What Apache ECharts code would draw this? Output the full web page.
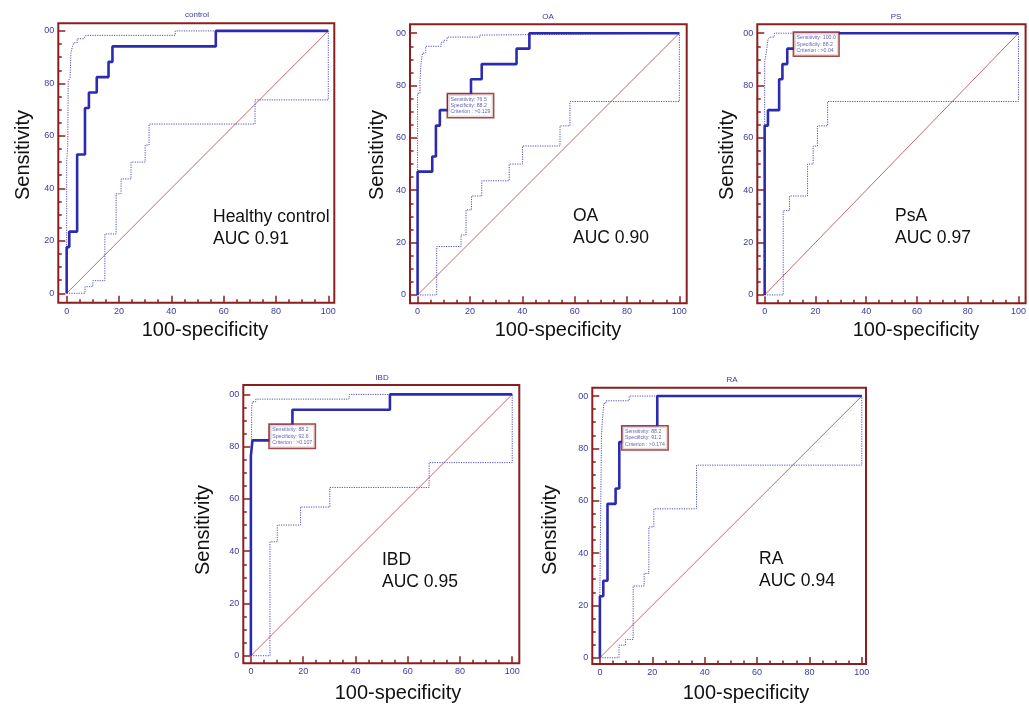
<!DOCTYPE html>
<html><head><meta charset="utf-8">
<script src="https://cdn.jsdelivr.net/npm/echarts@6/dist/echarts.min.js"></script>
<style>html,body{margin:0;padding:0;background:#fff;overflow:hidden}#c{width:1029px;height:704px}</style>
</head><body><div id="c"></div>
<script>
// ---------- data ----------
const panelTitles = ['control', 'OA', 'PS', 'IBD', 'RA'];
const groupNames = ['Healthy control', 'OA', 'PsA', 'IBD', 'RA'];
const aucValues = ['0.91', '0.90', '0.97', '0.95', '0.94'];
const xTickValues = [0, 20, 40, 60, 80, 100];
const xTickLabels = ['0', '20', '40', '60', '80', '100'];
const yTickValues = [0, 20, 40, 60, 80, 100];
const yTickLabels = ['0', '20', '40', '60', '80', '00'];
const minorTickValues = [5, 10, 15, 25, 30, 35, 45, 50, 55, 65, 70, 75, 85, 90, 95];
const diagonal = [[0, 0], [100, 100]];

const controlMain = [[0,0],[0,17.6],[1,17.6],[1,23.5],[4,23.5],[4,52.9],[7,52.9],[7,70.6],[8.5,70.6],[8.5,76.5],[11.5,76.5],[11.5,82.4],[16,82.4],[16,88.2],[17.5,88.2],[17.5,94.1],[57,94.1],[57,100],[100,100]];
const controlUpper = [[0,0],[0,50],[0.4,50],[0.4,56],[0.6,56],[0.6,81],[1.3,81],[1.3,82],[1.6,82],[1.6,91.5],[2.2,91.5],[2.2,94],[2.8,94],[2.8,95.5],[4,95.5],[4,97],[6.5,97],[6.5,97.6],[7.2,97.6],[7.2,98.3],[41.5,98.3],[41.5,100],[100,100]];
const controlLower = [[0,0],[7,0],[7,2.5],[10,2.5],[10,4.8],[14.6,4.8],[14.6,22.6],[18.9,22.6],[18.9,37.9],[20.8,37.9],[20.8,43.6],[24.6,43.6],[24.6,50],[30,50],[30,56.5],[31.5,56.5],[31.5,64.5],[72,64.5],[72,73.7],[100,73.7],[100,100]];

const oaMain = [[0,0],[0,47.1],[5.6,47.1],[5.6,52.9],[7,52.9],[7,64.7],[8.5,64.7],[8.5,70.6],[11.8,70.6],[11.8,76.5],[20.4,76.5],[20.4,82.4],[24.5,82.4],[24.5,88.2],[37.8,88.2],[37.8,94.1],[42.7,94.1],[42.7,100],[100,100]];
const oaUpper = [[0,0],[0,77],[0.9,77],[0.9,81.5],[1.3,81.5],[1.3,88.5],[1.9,88.5],[1.9,92.4],[3.1,92.4],[3.1,95],[9,95],[9,96.5],[10,96.5],[10,97.3],[11.3,97.3],[11.3,98.5],[23.8,98.5],[23.8,99.3],[27.6,99.3],[27.6,100],[100,100]];
const oaLower = [[0,0],[7.3,0],[7.3,18.5],[16.6,18.5],[16.6,22.9],[18.5,22.9],[18.5,32.5],[20.6,32.5],[20.6,37.8],[24.5,37.8],[24.5,43.6],[35,43.6],[35,50],[40.1,50],[40.1,56.9],[54.4,56.9],[54.4,64.6],[58.2,64.6],[58.2,73.9],[100,73.9],[100,100]];

const psMain = [[0,0],[0,64.7],[1.3,64.7],[1.3,70.6],[5.7,70.6],[5.7,82.4],[7,82.4],[7,88.2],[8.9,88.2],[8.9,94.1],[11.8,94.1],[11.8,100],[100,100]];
const psUpper = [[0,0],[0,89],[0.6,89],[0.6,92.4],[1.3,92.4],[1.3,97.5],[1.9,97.5],[1.9,98.5],[3.8,98.5],[3.8,100],[100,100]];
const psLower = [[0,0],[7.3,0],[7.3,32.2],[9.8,32.2],[9.8,37.8],[16.9,37.8],[16.9,50],[19.1,50],[19.1,56.9],[20.8,56.9],[20.8,64.6],[24.8,64.6],[24.8,73.9],[100,73.9],[100,100]];

const ibdMain = [[0,0],[0,76.5],[0.6,76.5],[0.6,82.4],[7.4,82.4],[7.4,88.2],[15.9,88.2],[15.9,94.1],[53.2,94.1],[53.2,100],[100,100]];
const ibdUpper = [[0,0],[0.3,0],[0.3,95.3],[0.6,95.3],[0.6,97.2],[1.9,97.2],[1.9,98.2],[37.6,98.2],[37.6,100],[100,100]];
const ibdLower = [[0,0],[7.3,0],[7.3,43.6],[10.1,43.6],[10.1,50],[19,50],[19,56.9],[30.2,56.9],[30.2,64.4],[68.2,64.4],[68.2,73.9],[100,73.9],[100,100]];

const raMain = [[0,0],[0,23.5],[1.3,23.5],[1.3,29.4],[2.9,29.4],[2.9,58.8],[6,58.8],[6,64.7],[7.4,64.7],[7.4,82.4],[8.8,82.4],[8.8,88.2],[21.9,88.2],[21.9,100],[100,100]];
const raUpper = [[0,0],[0,25],[0.3,25],[0.3,55.8],[0.6,55.8],[0.6,85],[1,85],[1,91.5],[1.5,91.5],[1.5,97.2],[2.3,97.2],[2.3,98.2],[11.2,98.2],[11.2,100],[100,100]];
const raLower = [[0,0],[7.3,0],[7.3,4.8],[9.8,4.8],[9.8,7],[12.7,7],[12.7,27.4],[16.9,27.4],[16.9,32.2],[18.7,32.2],[18.7,50],[20.6,50],[20.6,56.9],[36.9,56.9],[36.9,73.6],[100,73.6],[100,100]];

const mainCurves = [controlMain, oaMain, psMain, ibdMain, raMain];
const upperCurves = [controlUpper, oaUpper, psUpper, ibdUpper, raUpper];
const lowerCurves = [controlLower, oaLower, psLower, ibdLower, raLower];

const cutSens = [null, 76.5, 100.0, 88.2, 88.2];
const cutSpec = [null, 88.2, 88.2, 92.6, 91.2];
const cutCriterion = [null, '>0.129', '>0.04', '>0.107', '>0.174'];

// ---------- layout / style ----------
const layout = [
  {L:58.3, T:23.3, W:276, H:279.4, xmin:-3.2, xmax:102.3, ymin:-3.6, ymax:102.9, title:[197,15], yName:[23,155], xName:[205,330], big:[213,228]},
  {L:410, T:24.3, W:276.7, H:279, xmin:-2.9, xmax:102.8, ymin:-3.2, ymax:103.4, title:[548,17], yName:[377,155], xName:[558,330], big:[573,227]},
  {L:757.3, T:24.3, W:276.3, H:279, xmin:-2.9, xmax:102.8, ymin:-3.2, ymax:103.4, title:[896,17], yName:[727,155], xName:[916,330], big:[895,227]},
  {L:243.3, T:385, W:276, H:278.3, xmin:-2.9, xmax:102.7, ymin:-2.9, ymax:103.6, title:[382,378], yName:[203,530], xName:[398,693], big:[382,571]},
  {L:592.3, T:387.7, W:273.7, H:276.3, xmin:-2.9, xmax:101.6, ymin:-2.4, ymax:103.2, title:[732,380], yName:[550,530], xName:[746,693], big:[759,570]}
];
const FRAME = '#8b1e1e';
const LABEL = '#3b3b9f';
const MAIN = '#2b2bb2';
const BAND = '#5050c4';
const DIAG = '#c06a6a';
const FONT = 'Liberation Sans, Arial, sans-serif';

const grids = [], xAxes = [], yAxes = [], series = [], graphics = [];
layout.forEach((p, i) => {
  grids.push({left:p.L, top:p.T, width:p.W, height:p.H, show:true, borderColor:FRAME, borderWidth:2, backgroundColor:'#fff'});
  const tickStyle = {color:FRAME, width:1.5};
  const noLine = {show:false, onZero:false};
  xAxes.push({gridIndex:i, type:'value', position:'bottom', min:p.xmin, max:p.xmax, axisLine:noLine, splitLine:{show:false},
    axisTick:{show:true, inside:true, length:7, customValues:xTickValues, lineStyle:tickStyle},
    axisLabel:{customValues:xTickValues, formatter:v => xTickLabels[xTickValues.indexOf(v)], fontSize:9, color:LABEL, margin:4, fontFamily:FONT}});
  xAxes.push({gridIndex:i, type:'value', position:'bottom', min:p.xmin, max:p.xmax, axisLine:noLine, splitLine:{show:false},
    axisTick:{show:true, inside:true, length:3.5, customValues:minorTickValues, lineStyle:tickStyle},
    axisLabel:{show:false}});
  yAxes.push({gridIndex:i, type:'value', position:'left', min:p.ymin, max:p.ymax, axisLine:noLine, splitLine:{show:false},
    axisTick:{show:true, inside:true, length:7, customValues:yTickValues, lineStyle:tickStyle},
    axisLabel:{customValues:yTickValues, formatter:v => yTickLabels[yTickValues.indexOf(v)], fontSize:9, color:LABEL, margin:4, fontFamily:FONT}});
  yAxes.push({gridIndex:i, type:'value', position:'left', min:p.ymin, max:p.ymax, axisLine:noLine, splitLine:{show:false},
    axisTick:{show:true, inside:true, length:3.5, customValues:minorTickValues, lineStyle:tickStyle},
    axisLabel:{show:false}});
  const xi = 2 * i, yi = 2 * i;
  const base = {type:'line', xAxisIndex:xi, yAxisIndex:yi, showSymbol:false, symbol:'none', animation:false, silent:true};
  series.push(Object.assign({}, base, {data:diagonal, lineStyle:{color:DIAG, width:1}, z:2}));
  series.push(Object.assign({}, base, {data:lowerCurves[i], lineStyle:{color:BAND, width:1, type:[1.2,1.2]}, z:3}));
  series.push(Object.assign({}, base, {data:upperCurves[i], lineStyle:{color:BAND, width:1, type:[1.2,1.2]}, z:3}));
  series.push(Object.assign({}, base, {data:mainCurves[i], lineStyle:{color:MAIN, width:2.6}, z:4}));
  if (cutSens[i] !== null) {
    series.push({type:'scatter', xAxisIndex:xi, yAxisIndex:yi, animation:false, silent:true, z:10,
      symbol:'rect', symbolSize:1, itemStyle:{color:'rgba(0,0,0,0)'},
      data:[[100 - cutSpec[i], cutSens[i]]],
      label:{show:true, position:[0,0], formatter:() =>
        'Sensitivity: ' + cutSens[i].toFixed(1) + '\nSpecificity: ' + cutSpec[i].toFixed(1) + '\nCriterion : ' + cutCriterion[i],
        fontSize:5.2, lineHeight:6.3, color:LABEL, fontFamily:FONT, backgroundColor:'#fff',
        borderColor:FRAME, borderWidth:1.5, padding:[2,2.5,2,2.5], align:'left', verticalAlign:'top'}});
  }
  graphics.push({type:'text', x:p.title[0], y:p.title[1], silent:true,
    style:{text:panelTitles[i], fontSize:8, fill:LABEL, fontFamily:FONT, align:'center', verticalAlign:'middle'}});
  graphics.push({type:'text', x:p.yName[0], y:p.yName[1], rotation:Math.PI/2, silent:true,
    style:{text:'Sensitivity', fontSize:20, fill:'#111', fontFamily:FONT, align:'center', verticalAlign:'middle'}});
  graphics.push({type:'text', x:p.xName[0], y:p.xName[1], silent:true,
    style:{text:'100-specificity', fontSize:20, fill:'#111', fontFamily:FONT, align:'center', verticalAlign:'middle'}});
  graphics.push({type:'text', x:p.big[0], y:p.big[1], silent:true, z:20,
    style:{text:groupNames[i] + '\nAUC ' + aucValues[i], fontSize:17.5, lineHeight:22, fill:'#111', fontFamily:FONT, align:'left', verticalAlign:'middle'}});
});

const chart = echarts.init(document.getElementById('c'), null, {renderer:'canvas'});
chart.setOption({animation:false, backgroundColor:'#fff', grid:grids, xAxis:xAxes, yAxis:yAxes, series:series, graphic:graphics});
</script></body></html>
